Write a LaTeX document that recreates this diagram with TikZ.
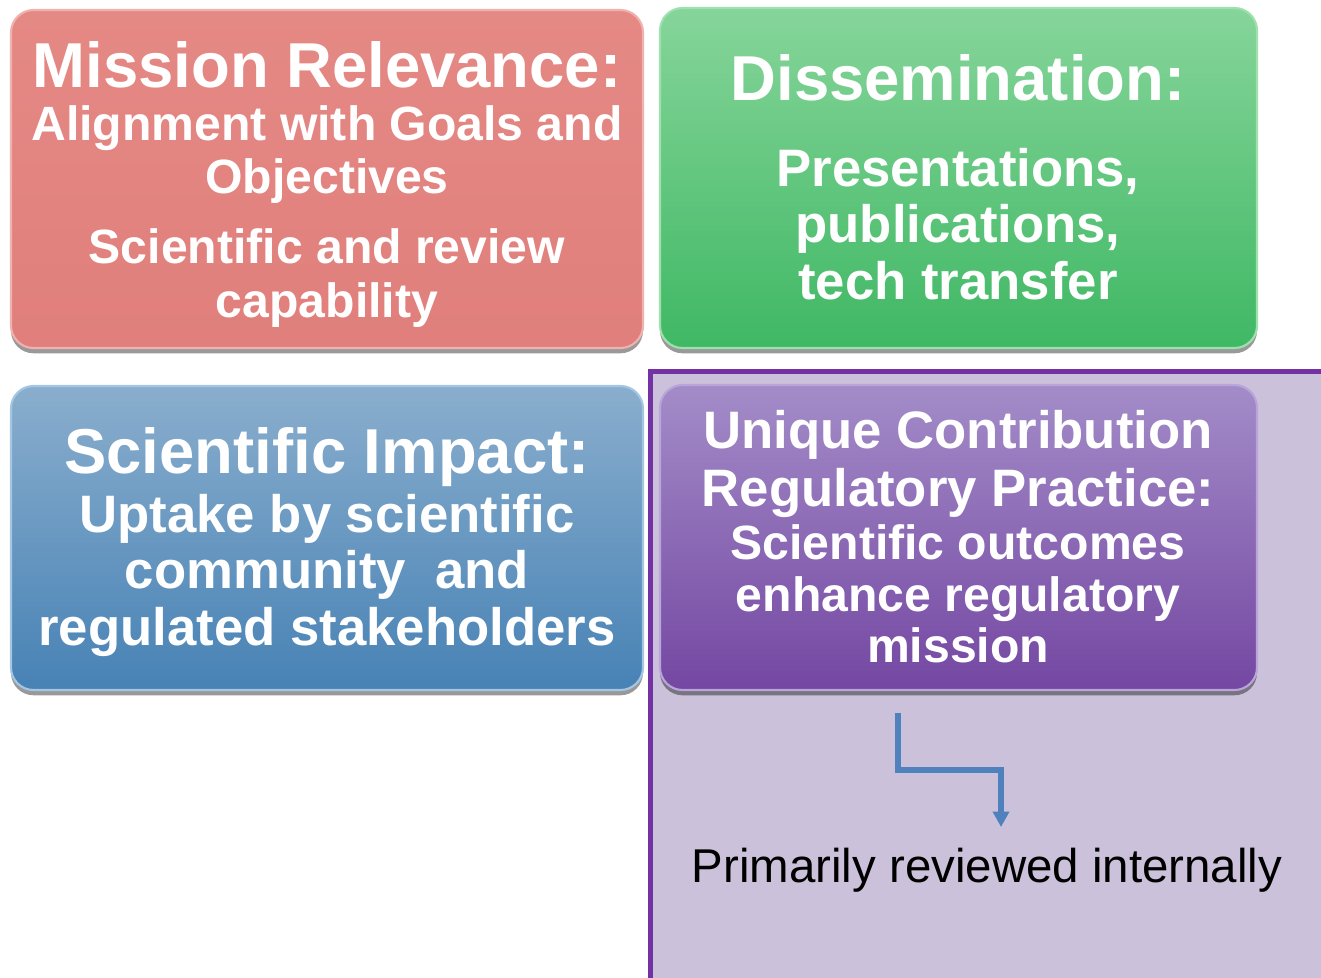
\documentclass[tikz,border=0pt]{standalone}
\usepackage{fontspec}
\setmainfont{Liberation Sans}
\usetikzlibrary{fit,shadows,arrows.meta}
\definecolor{redtop}{HTML}{E58985}
\definecolor{redbot}{HTML}{E07F7C}
\definecolor{redline}{HTML}{F0B2AE}
\definecolor{greentop}{HTML}{86D59A}
\definecolor{greenbot}{HTML}{3FB864}
\definecolor{greenline}{HTML}{9EE0AE}
\definecolor{bluetop}{HTML}{8AAECD}
\definecolor{bluebot}{HTML}{4782B5}
\definecolor{blueline}{HTML}{A5C6E2}
\definecolor{purptop}{HTML}{A38CC8}
\definecolor{purpbot}{HTML}{7447A2}
\definecolor{purpline}{HTML}{B9A5DA}
\definecolor{panelfill}{HTML}{CBC1DA}
\definecolor{panelline}{HTML}{7232A3}
\definecolor{arrowblue}{HTML}{4F81BD}
\tikzset{
  boxshape/.style={inner sep=0pt, rounded corners=0.45cm, line width=1.2pt,
    drop shadow={shadow xshift=0pt, shadow yshift=-3pt, opacity=0.4, fill=black}},
  txt/.style={text=white, anchor=base, inner sep=0pt},
  ttl/.style={txt, font=\bfseries\fontsize{36.1}{40}\selectfont},
  bodyA/.style={txt, font=\bfseries\fontsize{27.4}{30}\selectfont},
  bodyB/.style={txt, font=\bfseries\fontsize{30}{33}\selectfont},
  plain/.style={text=black, anchor=base, inner sep=0pt, font=\fontsize{27}{30}\selectfont},
  flowarrow/.style={draw=arrowblue, line width=0.12cm, -{Triangle[width=0.32cm,length=0.31cm]}}
}
\begin{document}
\begin{tikzpicture}[x=0.02cm, y=-0.02cm]
\useasboundingbox (0,0) rectangle (1321,977);
\begin{scope}
\clip (0,0) rectangle (1321,977);
\draw[fill=panelfill, draw=panelline, line width=0.1cm] (650.5,371.5) rectangle (1340,995);
\end{scope}
% boxes
\node[boxshape, fit={(11,10) (643,348)}, top color=redtop, bottom color=redbot, draw=redline] (mission) {};
\node[boxshape, fit={(660,8) (1257,348)}, top color=greentop, bottom color=greenbot, draw=greenline] (dissem) {};
\node[boxshape, fit={(11,386) (643,690)}, top color=bluetop, bottom color=bluebot, draw=blueline] (impact) {};
\node[boxshape, fit={(660,385) (1257,690)}, top color=purptop, bottom color=purpbot, draw=purpline] (unique) {};
% mission text
\node[ttl]   (m1) at (327,87)  {Mission Relevance:};
\node[bodyA] (m2) at (327,140) {Alignment with Goals and};
\node[bodyA] (m3) at (327,193) {Objectives};
\node[bodyA] (m4) at (327,263) {Scientific and review};
\node[bodyA] (m5) at (327,317) {capability};
% dissemination text
\node[ttl]   (d1) at (958,100) {Dissemination:};
\node[bodyB] (d2) at (958,186) {Presentations,};
\node[bodyB] (d3) at (958,242) {publications,};
\node[bodyB] (d4) at (958,299) {tech transfer};
% impact text
\node[ttl]   (s1) at (327,473) {Scientific Impact:};
\node[bodyB] (s2) at (327,532) {Uptake by scientific};
\node[bodyB] (s3) at (327,588) {community\ \ and};
\node[bodyB] (s4) at (327,645) {regulated stakeholders};
% unique text
\node[bodyB] (u1) at (958,448) {Unique Contribution};
\node[bodyB] (u2) at (958,506) {Regulatory Practice:};
\node[bodyA] (u3) at (958,559) {Scientific outcomes};
\node[bodyA] (u4) at (958,611) {enhance regulatory};
\node[bodyA] (u5) at (958,662) {mission};
% bottom text and arrow
\node[plain] (prim) at (987,882) {Primarily reviewed internally};
\coordinate (astart) at (898,713);
\coordinate (aend) at (1001,827);
\draw[flowarrow] (astart) -- ++(0,57) -| (aend);
\end{tikzpicture}
\end{document}
